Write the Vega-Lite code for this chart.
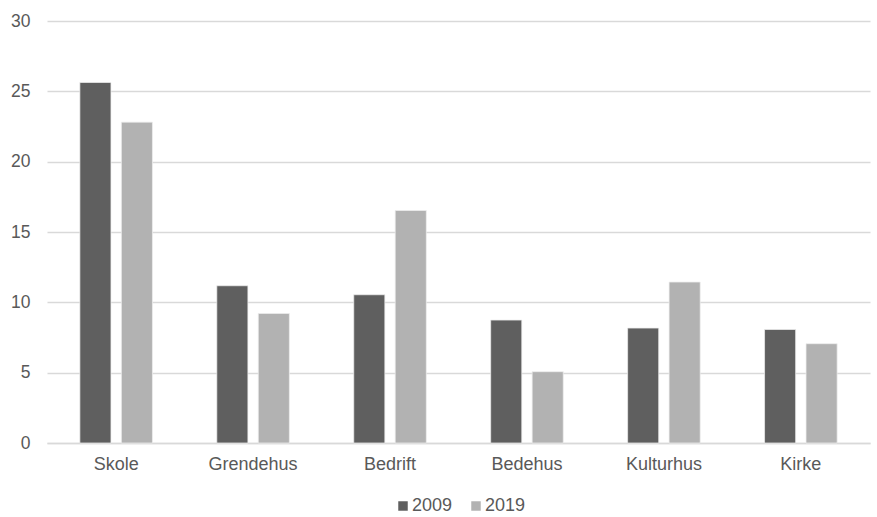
{
  "$schema": "https://vega.github.io/schema/vega-lite/v6.json",
  "width": 823,
  "height": 422,
  "autosize": "none",
  "padding": {"left": 47, "top": 21, "right": 7, "bottom": 74},
  "background": "white",
  "config": {
    "view": {"stroke": null},
    "font": "Liberation Sans",
    "axis": {"labelFont": "Liberation Sans", "labelColor": "#595959", "labelFontSize": 17.5},
    "legend": {"labelFont": "Liberation Sans"}
  },
  "data": {
    "values": [
      {"cat": "Skole", "year": "2009", "value": 25.63},
      {"cat": "Skole", "year": "2019", "value": 22.81},
      {"cat": "Grendehus", "year": "2009", "value": 11.18},
      {"cat": "Grendehus", "year": "2019", "value": 9.21},
      {"cat": "Bedrift", "year": "2009", "value": 10.54},
      {"cat": "Bedrift", "year": "2019", "value": 16.53},
      {"cat": "Bedehus", "year": "2009", "value": 8.74},
      {"cat": "Bedehus", "year": "2019", "value": 5.07},
      {"cat": "Kulturhus", "year": "2009", "value": 8.17},
      {"cat": "Kulturhus", "year": "2019", "value": 11.44},
      {"cat": "Kirke", "year": "2009", "value": 8.07},
      {"cat": "Kirke", "year": "2019", "value": 7.06}
    ]
  },
  "mark": {"type": "bar", "stroke": "#ededed", "strokeWidth": 0.75},
  "encoding": {
    "x": {
      "field": "cat", "type": "nominal", "sort": null, "title": null,
      "scale": {"paddingInner": 0.47, "paddingOuter": 0.24},
      "axis": {"labelAngle": 0, "ticks": false, "domainColor": "#d9d9d9", "domainWidth": 1.5, "labelPadding": 12, "labelColor": "#595959", "labelFontSize": 18}
    },
    "xOffset": {"field": "year", "type": "nominal", "scale": {"paddingInner": 0.25}},
    "y": {
      "field": "value", "type": "quantitative", "title": null,
      "scale": {"domain": [0, 30], "nice": false},
      "axis": {"values": [0, 5, 10, 15, 20, 25, 30], "ticks": false, "domain": false, "gridColor": "#d9d9d9", "gridWidth": 1.5, "labelPadding": 17}
    },
    "color": {
      "field": "year", "type": "nominal", "title": null,
      "scale": {"domain": ["2009", "2019"], "range": ["#5f5f5f", "#b2b2b2"]},
      "legend": {"orient": "none", "legendX": 347, "legendY": 476, "direction": "horizontal", "symbolType": "square", "symbolSize": 90, "symbolStrokeWidth": 0, "labelFontSize": 18, "labelColor": "#595959", "columnPadding": 14, "labelOffset": 0}
    }
  }
}
